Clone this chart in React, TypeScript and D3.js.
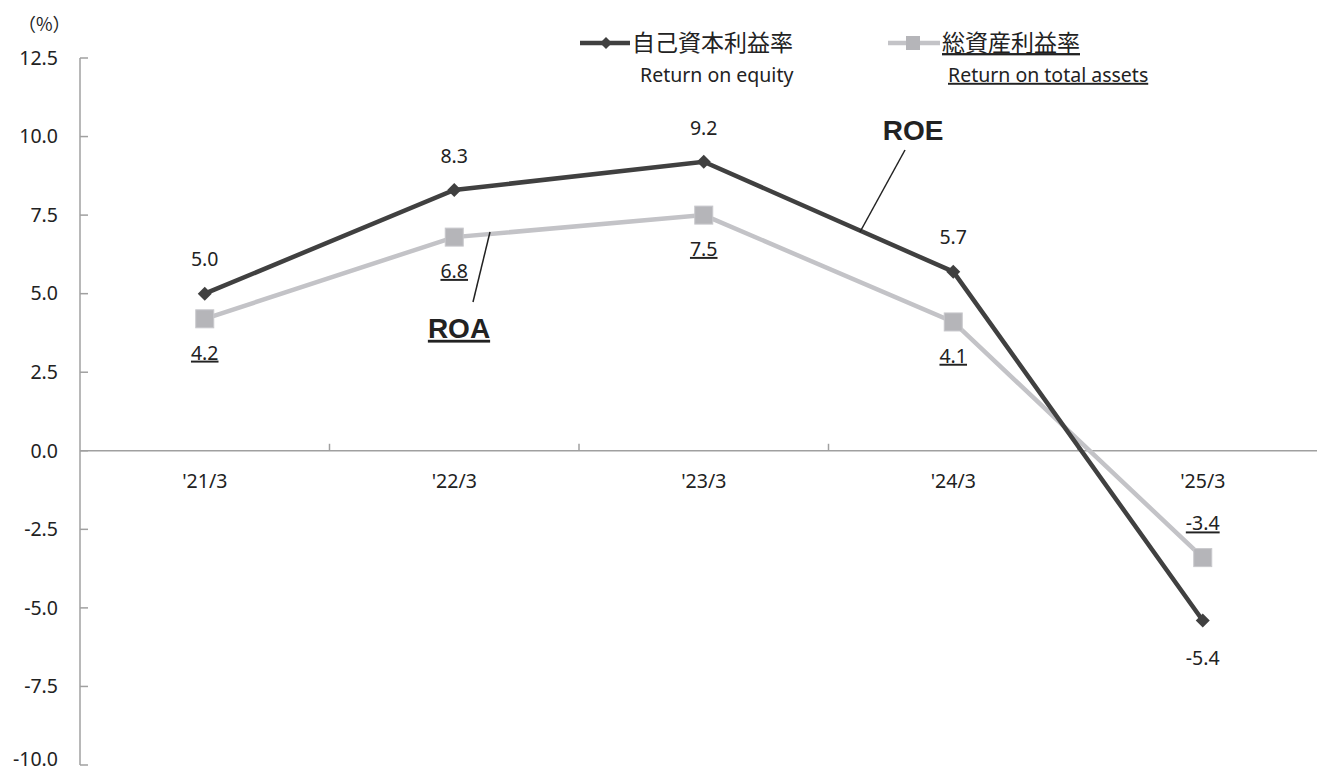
import React from "react";
import * as d3 from "d3";

const categories = ["'21/3", "'22/3", "'23/3", "'24/3", "'25/3"];
const roeValues = [5.0, 8.3, 9.2, 5.7, -5.4];
const roaValues = [4.2, 6.8, 7.5, 4.1, -3.4];
const yTicks = [12.5, 10.0, 7.5, 5.0, 2.5, 0.0, -2.5, -5.0, -7.5, -10.0];

const W = 1317;
const H = 771;
const FONT = "'Noto Sans', 'Noto Sans CJK JP', sans-serif";
const JFONT = "'Noto Sans CJK JP', sans-serif";
const FS = 19.5;

export default function App() {
  const x = d3.scaleBand<string>().domain(categories).range([80, 1327.5]);
  const y = d3.scaleLinear().domain([-10, 12.5]).range([765, 58]);
  const cx = (c: string) => (x(c) as number) + x.bandwidth() / 2;
  const line = d3
    .line<number>()
    .x((_, i) => cx(categories[i]))
    .y((d) => y(d));

  const roeColor = "#404040";
  const roaColor = "#c3c3c7";
  const roaMarker = "#b5b5b9";
  const axisColor = "#a0a0a0";

  return (
    <svg
      width={W}
      height={H}
      style={{ position: "absolute", left: 0, top: 0, background: "#fff" }}
    >
      {/* Y axis */}
      <line x1={80} x2={80} y1={y(12.5)} y2={y(-10)} stroke={axisColor} strokeWidth={1.5} />
      {yTicks.map((t) => (
        <g key={t}>
          <line x1={80} x2={88} y1={y(t)} y2={y(t)} stroke={axisColor} strokeWidth={1.5} />
          <text
            x={58}
            y={Math.min(y(t), 759)}
            dy="0.35em"
            textAnchor="end"
            fontFamily={FONT}
            fontSize={FS}
            fill="#222"
          >
            {t.toFixed(1)}
          </text>
        </g>
      ))}
      <text x={18} y={25} dy="0.35em" fontFamily={JFONT} fontSize={18} fill="#222">
        （%）
      </text>

      {/* X axis */}
      <line x1={80} x2={W} y1={y(0)} y2={y(0)} stroke={axisColor} strokeWidth={1.5} />
      {categories.map((c, i) =>
        i > 0 ? (
          <line
            key={"t" + c}
            x1={x(c) as number}
            x2={x(c) as number}
            y1={y(0)}
            y2={y(0) - 7}
            stroke={axisColor}
            strokeWidth={1.5}
          />
        ) : null
      )}
      {categories.map((c) => (
        <text
          key={"l" + c}
          x={cx(c)}
          y={481}
          dy="0.35em"
          textAnchor="middle"
          fontFamily={FONT}
          fontSize={FS}
          fill="#222"
        >
          {c}
        </text>
      ))}

      {/* Lines */}
      <path d={line(roaValues) as string} fill="none" stroke={roaColor} strokeWidth={4.5} />
      <path d={line(roeValues) as string} fill="none" stroke={roeColor} strokeWidth={4.5} />

      {/* ROA markers */}
      {roaValues.map((v, i) => (
        <rect
          key={"ra" + i}
          x={cx(categories[i]) - 9}
          y={y(v) - 9}
          width={18}
          height={18}
          fill={roaMarker}
          stroke="#c8c8cc"
          strokeWidth={1}
        />
      ))}
      {/* ROE markers */}
      {roeValues.map((v, i) => {
        const px = cx(categories[i]);
        const py = y(v);
        return (
          <path
            key={"re" + i}
            d={`M${px},${py - 7} L${px + 7},${py} L${px},${py + 7} L${px - 7},${py} Z`}
            fill={roeColor}
          />
        );
      })}

      {/* ROE labels */}
      {roeValues.map((v, i) => (
        <text
          key={"rel" + i}
          x={cx(categories[i])}
          y={y(v) + (v < 0 ? 38 : -34)}
          dy="0.35em"
          textAnchor="middle"
          fontFamily={FONT}
          fontSize={FS}
          fill="#222"
        >
          {v.toFixed(1)}
        </text>
      ))}
      {/* ROA labels (underlined) */}
      {roaValues.map((v, i) => (
        <text
          key={"ral" + i}
          x={cx(categories[i])}
          y={y(v) + (v < 0 ? -34 : 34)}
          dy="0.35em"
          textAnchor="middle"
          fontFamily={FONT}
          fontSize={FS}
          fill="#222"
          textDecoration="underline"
        >
          {v.toFixed(1)}
        </text>
      ))}

      {/* Callouts */}
      <line x1={860} y1={232} x2={905} y2={150} stroke="#222" strokeWidth={1.5} />
      <text
        x={913}
        y={130}
        dy="0.35em"
        textAnchor="middle"
        fontFamily="'Liberation Sans', Arial, sans-serif"
        fontWeight="bold"
        fontSize={28}
        fill="#222"
      >
        ROE
      </text>
      <line x1={490} y1={232} x2={473} y2={302} stroke="#222" strokeWidth={1.5} />
      <text
        x={459}
        y={328}
        dy="0.35em"
        textAnchor="middle"
        fontFamily="'Liberation Sans', Arial, sans-serif"
        fontWeight="bold"
        fontSize={28}
        fill="#222"
        textDecoration="underline"
      >
        ROA
      </text>

      {/* Legend */}
      <line x1={580} x2={630} y1={43} y2={43} stroke={roeColor} strokeWidth={4.5} />
      <path d="M606,37 L612,43 L606,49 L600,43 Z" fill={roeColor} />
      <text x={632} y={43} dy="0.35em" fontFamily={JFONT} fontSize={23} fill="#222">
        自己資本利益率
      </text>
      <text x={640} y={75} dy="0.35em" fontFamily={FONT} fontSize={FS} fill="#222">
        Return on equity
      </text>

      <line x1={888} x2={940} y1={43} y2={43} stroke={roaColor} strokeWidth={4.5} />
      <rect x={906} y={36} width={14} height={14} fill={roaMarker} />
      <text
        x={942}
        y={43}
        dy="0.35em"
        fontFamily={JFONT}
        fontSize={23}
        fill="#222"
        textDecoration="underline"
      >
        総資産利益率
      </text>
      <text
        x={948}
        y={75}
        dy="0.35em"
        fontFamily={FONT}
        fontSize={FS}
        fill="#222"
        textDecoration="underline"
      >
        Return on total assets
      </text>
    </svg>
  );
}
